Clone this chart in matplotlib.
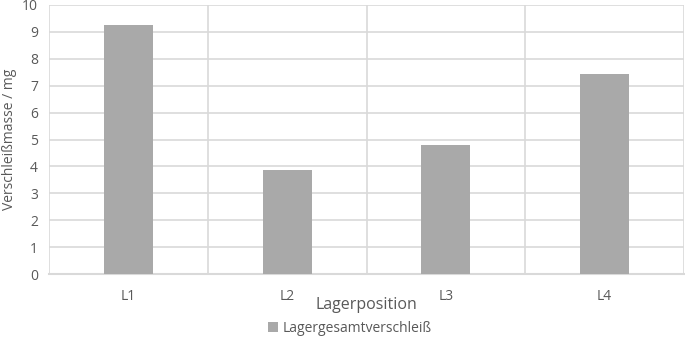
import matplotlib.pyplot as plt
import numpy as np

# Data
positions = ['L1', 'L2', 'L3', 'L4']
wear_mg = [9.26, 3.86, 4.80, 7.43]

plt.rcParams['font.family'] = ['Open Sans', 'DejaVu Sans']

grid_col = '#d9d9d9'
text_col = '#595959'
bar_col = '#a9a9a9'

fig = plt.figure(figsize=(6.85, 3.38), dpi=100)
ax = fig.add_axes([49/685, 1 - 274/338, (684-49)/685, (274-5)/338])

x = np.arange(len(positions))
ax.bar(x, wear_mg, width=0.31, color=bar_col, zorder=3, label='Lagergesamtverschleiß')

ax.set_xlim(-0.5, len(positions) - 0.5)
ax.set_ylim(0, 10)
ax.set_yticks(np.arange(0, 11, 1))
ax.set_xticks(x)
ax.set_xticklabels(positions)

# horizontal and category separator gridlines
for yv in np.arange(1, 11, 1):
    ax.axhline(yv, color=grid_col, lw=1.2, zorder=1)
for xv in np.arange(-0.5, len(positions), 1):
    ax.axvline(xv, color=grid_col, lw=1.2, zorder=1)

for s in ['top', 'right', 'left']:
    ax.spines[s].set_visible(False)
ax.spines['bottom'].set_color(grid_col)
ax.spines['bottom'].set_linewidth(1.5)

ax.tick_params(axis='both', length=0, colors=text_col, labelsize=10)
ax.tick_params(axis='x', pad=11)
ax.tick_params(axis='y', pad=8)

ax.set_xlabel('Lagerposition', fontsize=11.5, color=text_col, labelpad=-5)
ax.set_ylabel('Verschleißmasse / mg', fontsize=10, color=text_col, va='center')
ax.yaxis.set_label_coords(-39/635, 0.5)

fig.legend(loc='center', bbox_to_anchor=(350/685, 1 - 328/338), frameon=False,
           fontsize=10, labelcolor=text_col, handlelength=0.7, handleheight=0.7,
           handletextpad=0.3)

plt.savefig('out.png', dpi=100)
